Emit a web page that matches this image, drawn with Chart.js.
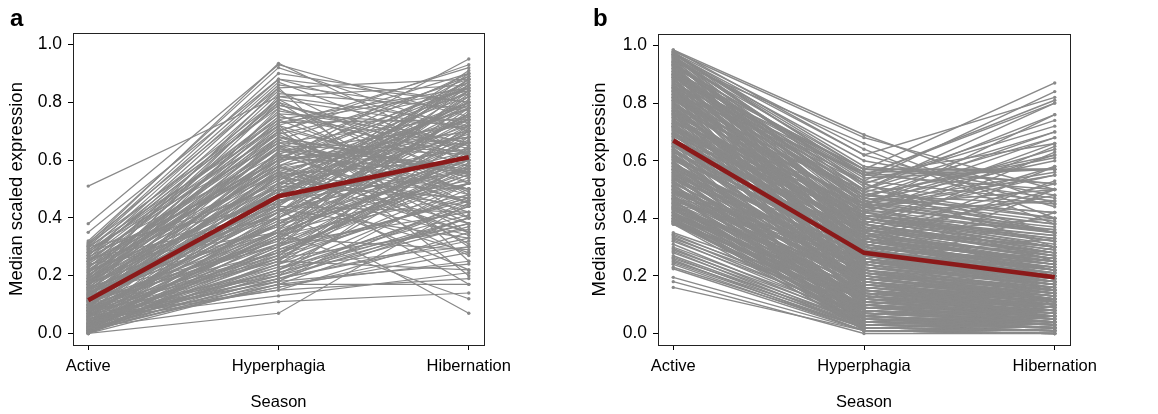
<!DOCTYPE html>
<html>
<head>
  <title>Median scaled expression by season</title>
  <script src="https://cdn.jsdelivr.net/npm/chart.js"></script>
  <style>
    body { margin: 0; background: #fff; font-family: 'Liberation Sans', Arial, Helvetica, sans-serif; }
    .row { display: flex; width: 1158px; height: 414px; }
    .panel { position: relative; width: 579px; height: 414px; }
    .tag { position: absolute; top: 6px; font-weight: bold; font-size: 24px; line-height: 1; color: #000; }
  </style>
</head>
<body>
  <div class="row">
    <div class="panel">
      <span class="tag" style="left:10px;">a</span>
      <canvas id="chartA"></canvas>
    </div>
    <div class="panel">
      <span class="tag" style="left:14px;">b</span>
      <canvas id="chartB"></canvas>
    </div>
  </div>

  <script>
    const seasons = ['Active', 'Hyperphagia', 'Hibernation'];
    const yTicks = [0, 0.2, 0.4, 0.6, 0.8, 1.0];

    // panel a - genes rising into hibernation
    const aActive = [
      0.51, 0.38, 0.35, 0.31, 0.0, 0.02, 0.05, 0.03, 0.25, 0.18, 0.08, 0.12,
      0.32, 0.315, 0.31, 0.305, 0.30, 0.295, 0.29, 0.285, 0.28, 0.275,
      0.27, 0.265, 0.26, 0.255, 0.25, 0.245, 0.24, 0.235, 0.23, 0.225,
      0.22, 0.215, 0.21, 0.205, 0.20, 0.30, 0.28, 0.26, 0.24, 0.22,
      0.195, 0.19, 0.185, 0.18, 0.175, 0.17, 0.165, 0.16, 0.155, 0.15,
      0.145, 0.14, 0.135, 0.13, 0.125, 0.12, 0.115, 0.11, 0.105, 0.10,
      0.195, 0.185, 0.175, 0.165, 0.155, 0.145, 0.135, 0.125, 0.115, 0.105,
      0.19, 0.18, 0.17, 0.16, 0.15, 0.14, 0.13, 0.12, 0.11, 0.10,
      0.098, 0.095, 0.09, 0.088, 0.085, 0.08, 0.078, 0.075, 0.07, 0.068,
      0.065, 0.06, 0.058, 0.055, 0.05, 0.048, 0.045, 0.04, 0.038, 0.035,
      0.032, 0.03, 0.095, 0.085, 0.075, 0.065, 0.055, 0.045, 0.035, 0.09,
      0.08, 0.07, 0.06, 0.05, 0.04,
      0.028, 0.025, 0.022, 0.02, 0.018, 0.015, 0.012, 0.01, 0.008, 0.005,
      0.003, 0.0, 0.0, 0.026, 0.021, 0.016, 0.011, 0.006, 0.002, 0.0,
      0.024, 0.014, 0.009, 0.004, 0.0,
      0.005, 0.01, 0.015, 0.02, 0.025, 0.03, 0.04, 0.045, 0.05, 0.06,
      0.065, 0.07, 0.08, 0.085, 0.09, 0.10, 0.11, 0.12, 0.13, 0.14,
      0.15, 0.16, 0.17, 0.18, 0.19, 0.20, 0.21, 0.23, 0.25, 0.27,
      0.012, 0.035, 0.055, 0.075, 0.095, 0.115, 0.135, 0.155, 0.175, 0.29,
      0.30, 0.28, 0.26, 0.24, 0.22, 0.20, 0.18, 0.16, 0.14, 0.12,
      0.10, 0.08, 0.06, 0.04, 0.02, 0.01, 0.03, 0.05, 0.07, 0.09,
      0.11, 0.13, 0.15, 0.17, 0.19, 0.21, 0.23, 0.25, 0.27, 0.06
    ];
    const aHyper = [
      0.82, 0.93, 0.88, 0.935, 0.07, 0.11, 0.13, 0.16, 0.60, 0.70, 0.35, 0.55,
      0.92, 0.85, 0.78, 0.90, 0.72, 0.81, 0.66, 0.87, 0.74, 0.62,
      0.79, 0.58, 0.84, 0.70, 0.55, 0.76, 0.64, 0.52, 0.68, 0.83,
      0.60, 0.48, 0.73, 0.57, 0.66, 0.45, 0.50, 0.40, 0.35, 0.44,
      0.75, 0.62, 0.80, 0.55, 0.68, 0.48, 0.72, 0.58, 0.42, 0.65,
      0.52, 0.78, 0.45, 0.60, 0.38, 0.70, 0.50, 0.35, 0.63, 0.47,
      0.85, 0.57, 0.40, 0.66, 0.53, 0.30, 0.61, 0.44, 0.56, 0.33,
      0.71, 0.49, 0.64, 0.37, 0.59, 0.43, 0.54, 0.28, 0.46, 0.51,
      0.45, 0.32, 0.58, 0.25, 0.40, 0.52, 0.20, 0.36, 0.62, 0.28,
      0.43, 0.18, 0.50, 0.33, 0.23, 0.55, 0.38, 0.17, 0.30, 0.47,
      0.22, 0.35, 0.68, 0.27, 0.42, 0.19, 0.48, 0.26, 0.34, 0.60,
      0.21, 0.39, 0.31, 0.15, 0.24,
      0.30, 0.20, 0.45, 0.26, 0.16, 0.38, 0.22, 0.55, 0.18, 0.33,
      0.28, 0.17, 0.42, 0.24, 0.36, 0.19, 0.50, 0.27, 0.21, 0.31,
      0.40, 0.23, 0.35, 0.29, 0.25,
      0.24, 0.41, 0.19, 0.52, 0.29, 0.36, 0.21, 0.46, 0.27, 0.57,
      0.34, 0.44, 0.26, 0.63, 0.38, 0.31, 0.54, 0.42, 0.67, 0.49,
      0.59, 0.35, 0.77, 0.53, 0.64, 0.71, 0.81, 0.61, 0.75, 0.86,
      0.33, 0.20, 0.48, 0.39, 0.56, 0.65, 0.47, 0.74, 0.82, 0.69,
      0.88, 0.80, 0.76, 0.72, 0.69, 0.65, 0.62, 0.58, 0.54, 0.50,
      0.46, 0.42, 0.38, 0.34, 0.30, 0.17, 0.22, 0.18, 0.25, 0.28,
      0.32, 0.37, 0.43, 0.51, 0.56, 0.60, 0.67, 0.73, 0.79, 0.15
    ];
    const aHibern = [
      0.86, 0.75, 0.70, 0.62, 0.45, 0.14, 0.21, 0.30, 0.95, 0.93, 0.12, 0.17,
      0.70, 0.88, 0.55, 0.80, 0.92, 0.48, 0.75, 0.62, 0.85, 0.40,
      0.66, 0.82, 0.52, 0.90, 0.35, 0.72, 0.58, 0.86, 0.45, 0.78,
      0.68, 0.28, 0.84, 0.50, 0.63, 0.88, 0.22, 0.74, 0.60, 0.42,
      0.62, 0.85, 0.40, 0.78, 0.55, 0.88, 0.30, 0.70, 0.82, 0.48,
      0.74, 0.58, 0.66, 0.90, 0.52, 0.35, 0.80, 0.60, 0.72, 0.86,
      0.25, 0.68, 0.76, 0.45, 0.89, 0.64, 0.56, 0.84, 0.38, 0.71,
      0.20, 0.79, 0.50, 0.67, 0.87, 0.33, 0.75, 0.57, 0.63, 0.47,
      0.78, 0.55, 0.35, 0.72, 0.88, 0.50, 0.65, 0.82, 0.42, 0.58,
      0.07, 0.46, 0.69, 0.84, 0.38, 0.60, 0.76, 0.25, 0.52, 0.80,
      0.44, 0.70, 0.56, 0.62, 0.90, 0.32, 0.74, 0.48, 0.86, 0.66,
      0.40, 0.53, 0.77, 0.19, 0.64,
      0.58, 0.44, 0.70, 0.36, 0.28, 0.66, 0.50, 0.80, 0.24, 0.62,
      0.54, 0.17, 0.75, 0.41, 0.60, 0.33, 0.85, 0.47, 0.38, 0.56,
      0.68, 0.30, 0.52, 0.46, 0.22,
      0.52, 0.73, 0.40, 0.64, 0.55, 0.83, 0.45, 0.61, 0.70, 0.79,
      0.48, 0.87, 0.63, 0.57, 0.76, 0.42, 0.68, 0.81, 0.50, 0.72,
      0.85, 0.59, 0.66, 0.78, 0.89, 0.54, 0.71, 0.83, 0.65, 0.77,
      0.29, 0.37, 0.80, 0.57, 0.74, 0.62, 0.91, 0.49, 0.73, 0.84,
      0.80, 0.60, 0.45, 0.52, 0.38, 0.31, 0.50, 0.27, 0.44, 0.34,
      0.56, 0.60, 0.72, 0.66, 0.80, 0.40, 0.59, 0.52, 0.68, 0.47,
      0.78, 0.62, 0.57, 0.84, 0.46, 0.70, 0.88, 0.74, 0.64, 0.35
    ];
    const aMedian = [0.115, 0.475, 0.61];

    // panel b - genes falling after the active season
    const bActive = [
      0.985, 0.98, 0.975, 0.97, 0.97, 0.965, 0.96, 0.955, 0.95, 0.95,
      0.945, 0.94, 0.935, 0.93, 0.93, 0.925, 0.92, 0.92, 0.915, 0.91,
      0.91, 0.905, 0.90, 0.90, 0.985, 0.975, 0.96, 0.94, 0.92, 0.90,
      0.895, 0.89, 0.885, 0.88, 0.875, 0.87, 0.865, 0.86, 0.855, 0.85,
      0.845, 0.84, 0.835, 0.83, 0.825, 0.82, 0.815, 0.81, 0.805, 0.80,
      0.795, 0.79, 0.785, 0.78, 0.775, 0.77, 0.765, 0.76, 0.755, 0.75,
      0.745, 0.74, 0.735, 0.73, 0.725, 0.72, 0.715, 0.71, 0.705, 0.70,
      0.89, 0.87, 0.85, 0.83, 0.81, 0.79, 0.77, 0.75, 0.73, 0.71,
      0.695, 0.69, 0.685, 0.68, 0.675, 0.67, 0.665, 0.66, 0.655, 0.65,
      0.645, 0.64, 0.635, 0.63, 0.625, 0.62, 0.615, 0.61, 0.605, 0.60,
      0.595, 0.59, 0.585, 0.58, 0.575, 0.57, 0.565, 0.56, 0.555, 0.55,
      0.545, 0.54, 0.535, 0.53, 0.525, 0.52, 0.515, 0.51, 0.505, 0.50,
      0.69, 0.67, 0.65, 0.63, 0.61, 0.59, 0.57, 0.55, 0.53, 0.51,
      0.495, 0.49, 0.485, 0.48, 0.475, 0.47, 0.465, 0.46, 0.455, 0.45,
      0.445, 0.44, 0.435, 0.43, 0.425, 0.42, 0.415, 0.41, 0.405, 0.40,
      0.395, 0.39, 0.385, 0.38, 0.38, 0.47, 0.46, 0.44, 0.42, 0.40,
      0.49, 0.45, 0.43, 0.41, 0.39,
      0.35, 0.345, 0.34, 0.335, 0.33, 0.325, 0.32, 0.31, 0.30, 0.295,
      0.29, 0.285, 0.28, 0.27, 0.265, 0.26, 0.255, 0.25, 0.245, 0.24,
      0.23, 0.225, 0.195, 0.18, 0.16,
      0.98, 0.97, 0.96, 0.955, 0.95, 0.94, 0.935, 0.93, 0.92, 0.915,
      0.91, 0.90, 0.895, 0.89, 0.88, 0.875, 0.87, 0.86, 0.855, 0.85,
      0.84, 0.835, 0.83, 0.82, 0.815, 0.81, 0.80, 0.795, 0.79, 0.78,
      0.775, 0.77, 0.76, 0.755, 0.75, 0.965, 0.945, 0.925, 0.905, 0.885,
      0.865, 0.845, 0.825, 0.805, 0.785, 0.765, 0.975, 0.935, 0.895, 0.855,
      0.745, 0.74, 0.73, 0.725, 0.72, 0.71, 0.705, 0.70, 0.69, 0.685,
      0.68, 0.67, 0.665, 0.66, 0.65, 0.645, 0.64, 0.63, 0.625, 0.62,
      0.61, 0.605, 0.60, 0.59, 0.585, 0.58, 0.57, 0.565, 0.56, 0.55,
      0.545, 0.54, 0.53, 0.525, 0.52, 0.51, 0.505, 0.50, 0.735, 0.715,
      0.695, 0.675, 0.655, 0.635, 0.615, 0.595, 0.575, 0.555, 0.535, 0.515,
      0.72, 0.66, 0.62, 0.58, 0.54,
      0.50, 0.495, 0.49, 0.48, 0.475, 0.47, 0.46, 0.455, 0.45, 0.44,
      0.435, 0.43, 0.42, 0.415, 0.41, 0.40, 0.395, 0.39, 0.385, 0.38,
      0.498, 0.485, 0.468, 0.452, 0.438, 0.422, 0.408, 0.392, 0.382, 0.465,
      0.96, 0.94, 0.91, 0.88, 0.86, 0.83, 0.80, 0.78, 0.93, 0.89,
      0.84, 0.76, 0.72, 0.97, 0.82
    ];
    const bHyper = [
      0.69, 0.68, 0.64, 0.62, 0.55, 0.52, 0.60, 0.48, 0.57, 0.45,
      0.66, 0.42, 0.54, 0.38, 0.50, 0.56, 0.47, 0.35, 0.44, 0.57,
      0.40, 0.52, 0.30, 0.46, 0.62, 0.58, 0.51, 0.43, 0.36, 0.55,
      0.50, 0.42, 0.33, 0.55, 0.28, 0.46, 0.38, 0.22, 0.52, 0.31,
      0.44, 0.26, 0.40, 0.35, 0.18, 0.48, 0.30, 0.42, 0.24, 0.37,
      0.45, 0.20, 0.34, 0.28, 0.50, 0.15, 0.39, 0.32, 0.25, 0.43,
      0.12, 0.36, 0.29, 0.47, 0.21, 0.33, 0.27, 0.40, 0.17, 0.31,
      0.57, 0.53, 0.49, 0.56, 0.45, 0.41, 0.35, 0.38, 0.26, 0.22,
      0.32, 0.25, 0.40, 0.18, 0.28, 0.35, 0.12, 0.22, 0.30, 0.38,
      0.15, 0.26, 0.20, 0.33, 0.10, 0.24, 0.29, 0.17, 0.21, 0.36,
      0.08, 0.19, 0.27, 0.14, 0.23, 0.31, 0.11, 0.16, 0.25, 0.06,
      0.20, 0.13, 0.28, 0.09, 0.18, 0.22, 0.05, 0.15, 0.12, 0.24,
      0.45, 0.42, 0.38, 0.34, 0.30, 0.27, 0.19, 0.26, 0.07, 0.16,
      0.20, 0.14, 0.26, 0.08, 0.18, 0.11, 0.22, 0.05, 0.15, 0.28,
      0.09, 0.17, 0.03, 0.12, 0.20, 0.07, 0.14, 0.02, 0.10, 0.16,
      0.06, 0.12, 0.04, 0.09, 0.14, 0.32, 0.24, 0.19, 0.13, 0.08,
      0.30, 0.11, 0.05, 0.16, 0.10,
      0.12, 0.08, 0.10, 0.06, 0.09, 0.05, 0.07, 0.04, 0.06, 0.03,
      0.05, 0.02, 0.04, 0.03, 0.02, 0.04, 0.01, 0.03, 0.02, 0.01,
      0.02, 0.01, 0.01, 0.00, 0.01,
      0.49, 0.36, 0.28, 0.53, 0.33, 0.25, 0.46, 0.31, 0.20, 0.41,
      0.34, 0.27, 0.48, 0.19, 0.37, 0.23, 0.43, 0.15, 0.29, 0.39,
      0.21, 0.35, 0.13, 0.32, 0.44, 0.24, 0.18, 0.38, 0.27, 0.10,
      0.33, 0.22, 0.41, 0.16, 0.29, 0.45, 0.40, 0.34, 0.26, 0.30,
      0.25, 0.32, 0.36, 0.14, 0.28, 0.19, 0.55, 0.47, 0.39, 0.08,
      0.26, 0.40, 0.19, 0.33, 0.11, 0.28, 0.36, 0.15, 0.23, 0.30,
      0.09, 0.21, 0.34, 0.17, 0.26, 0.05, 0.20, 0.29, 0.13, 0.24,
      0.18, 0.31, 0.07, 0.22, 0.14, 0.27, 0.10, 0.19, 0.04, 0.23,
      0.12, 0.25, 0.08, 0.17, 0.03, 0.20, 0.11, 0.14, 0.44, 0.37,
      0.41, 0.15, 0.32, 0.06, 0.25, 0.16, 0.21, 0.09, 0.18, 0.02,
      0.30, 0.03, 0.02, 0.05, 0.01,
      0.17, 0.09, 0.23, 0.04, 0.13, 0.19, 0.06, 0.11, 0.02, 0.15,
      0.08, 0.21, 0.03, 0.12, 0.07, 0.01, 0.10, 0.05, 0.13, 0.02,
      0.25, 0.12, 0.16, 0.04, 0.10, 0.07, 0.14, 0.03, 0.06, 0.01,
      0.52, 0.48, 0.45, 0.40, 0.50, 0.36, 0.42, 0.33, 0.55, 0.47,
      0.38, 0.30, 0.35, 0.57, 0.44
    ];
    const bHibern = [
      0.45, 0.50, 0.38, 0.44, 0.57, 0.30, 0.48, 0.62, 0.52, 0.25,
      0.40, 0.35, 0.57, 0.20, 0.70, 0.47, 0.42, 0.15, 0.55, 0.57,
      0.28, 0.35, 0.10, 0.60, 0.82, 0.52, 0.45, 0.32, 0.22, 0.66,
      0.40, 0.30, 0.22, 0.80, 0.18, 0.35, 0.28, 0.12, 0.72, 0.20,
      0.50, 0.15, 0.32, 0.25, 0.08, 0.45, 0.18, 0.62, 0.14, 0.27,
      0.38, 0.10, 0.24, 0.19, 0.76, 0.06, 0.30, 0.22, 0.16, 0.55,
      0.05, 0.26, 0.20, 0.42, 0.12, 0.25, 0.17, 0.34, 0.09, 0.21,
      0.87, 0.84, 0.68, 0.57, 0.64, 0.36, 0.48, 0.29, 0.18, 0.11,
      0.22, 0.18, 0.30, 0.10, 0.20, 0.26, 0.08, 0.15, 0.24, 0.65,
      0.09, 0.19, 0.14, 0.28, 0.04, 0.17, 0.22, 0.12, 0.16, 0.30,
      0.03, 0.13, 0.21, 0.09, 0.18, 0.58, 0.06, 0.11, 0.20, 0.02,
      0.15, 0.07, 0.23, 0.05, 0.13, 0.17, 0.02, 0.10, 0.08, 0.50,
      0.35, 0.46, 0.27, 0.40, 0.25, 0.21, 0.14, 0.33, 0.04, 0.12,
      0.15, 0.10, 0.20, 0.05, 0.13, 0.08, 0.42, 0.03, 0.11, 0.22,
      0.06, 0.12, 0.02, 0.09, 0.15, 0.04, 0.10, 0.01, 0.07, 0.12,
      0.04, 0.30, 0.02, 0.06, 0.10, 0.26, 0.18, 0.14, 0.09, 0.05,
      0.24, 0.08, 0.03, 0.11, 0.07,
      0.10, 0.06, 0.15, 0.04, 0.08, 0.03, 0.05, 0.02, 0.12, 0.02,
      0.04, 0.01, 0.03, 0.02, 0.01, 0.06, 0.01, 0.02, 0.01, 0.00,
      0.01, 0.00, 0.00, 0.00, 0.01,
      0.35, 0.26, 0.20, 0.46, 0.24, 0.16, 0.38, 0.22, 0.11, 0.32,
      0.25, 0.18, 0.40, 0.12, 0.28, 0.15, 0.35, 0.08, 0.20, 0.30,
      0.13, 0.26, 0.06, 0.23, 0.36, 0.17, 0.10, 0.29, 0.19, 0.04,
      0.24, 0.14, 0.33, 0.09, 0.21, 0.56, 0.31, 0.27, 0.17, 0.22,
      0.18, 0.25, 0.28, 0.07, 0.20, 0.12, 0.50, 0.39, 0.30, 0.03,
      0.19, 0.33, 0.13, 0.25, 0.06, 0.21, 0.28, 0.09, 0.17, 0.23,
      0.05, 0.15, 0.27, 0.11, 0.19, 0.02, 0.14, 0.22, 0.08, 0.18,
      0.12, 0.24, 0.04, 0.16, 0.09, 0.20, 0.06, 0.13, 0.02, 0.17,
      0.07, 0.19, 0.04, 0.11, 0.01, 0.14, 0.06, 0.09, 0.37, 0.30,
      0.34, 0.10, 0.26, 0.03, 0.18, 0.10, 0.15, 0.05, 0.12, 0.01,
      0.23, 0.02, 0.01, 0.03, 0.00,
      0.12, 0.05, 0.18, 0.02, 0.09, 0.14, 0.03, 0.07, 0.01, 0.10,
      0.04, 0.16, 0.01, 0.08, 0.04, 0.00, 0.06, 0.02, 0.09, 0.01,
      0.20, 0.08, 0.11, 0.02, 0.06, 0.04, 0.10, 0.01, 0.03, 0.00,
      0.74, 0.61, 0.68, 0.55, 0.80, 0.52, 0.66, 0.50, 0.81, 0.70,
      0.58, 0.53, 0.63, 0.57, 0.76
    ];
    const bMedian = [0.67, 0.28, 0.195];

    const FONT = "'Liberation Sans', Arial, Helvetica, sans-serif";
    const GREY = '#898989';
    const RED = '#8b1a1a';

    // draws the closed frame round the plot, like R's box()
    const boxPlugin = {
      id: 'box',
      afterDraw(chart) {
        const a = chart.chartArea;
        const ctx = chart.ctx;
        ctx.save();
        ctx.strokeStyle = '#222';
        ctx.lineWidth = 1;
        ctx.strokeRect(Math.round(a.left) + 0.5, Math.round(a.top) + 0.5,
          Math.round(a.right - a.left), Math.round(a.bottom - a.top));
        ctx.restore();
      }
    };

    function makeChart(id, act, hyp, hib, med, yWidth, padRight, padTop, titlePad, lineW) {
      const datasets = [{
        data: med.map((v, i) => ({ x: i, y: v })),
        borderColor: RED,
        borderWidth: 4.5,
        pointRadius: 0,
        order: 0
      }];
      for (let i = 0; i < act.length; i++) {
        datasets.push({
          data: [{ x: 0, y: act[i] }, { x: 1, y: hyp[i] }, { x: 2, y: hib[i] }],
          borderColor: GREY,
          backgroundColor: GREY,
          borderWidth: lineW,
          pointRadius: 1.7,
          pointBorderWidth: 0,
          order: 1
        });
      }

      return new Chart(document.getElementById(id).getContext('2d'), {
        type: 'line',
        data: { datasets },
        plugins: [boxPlugin],
        options: {
          responsive: true,
          maintainAspectRatio: false,
          animation: false,
          events: [],
          layout: { padding: { left: 0, right: padRight, top: padTop, bottom: 0 } },
          plugins: { legend: { display: false }, tooltip: { enabled: false } },
          scales: {
            x: {
              type: 'linear',
              min: -0.08,
              max: 2.08,
              afterBuildTicks: s => { s.ticks = [0, 1, 2].map(v => ({ value: v })); },
              afterFit: s => {
                s.height = 69;
                s.paddingLeft = 0; s.paddingRight = 0;
              },
              grid: { drawOnChartArea: false, drawTicks: true, tickLength: 5, tickColor: '#000' },
              border: { display: false },
              ticks: {
                autoSkip: false, maxRotation: 0, padding: 7, color: '#000',
                font: { family: FONT, size: 16.5 },
                callback: v => seasons[v]
              },
              title: {
                display: true, text: 'Season', color: '#000',
                font: { family: FONT, size: 16.5 },
                padding: { top: 0, bottom: 2 }
              }
            },
            y: {
              min: -0.04,
              max: 1.04,
              afterBuildTicks: s => { s.ticks = yTicks.map(v => ({ value: v })); },
              afterFit: s => {
                s.width = yWidth;
                s.paddingTop = 0; s.paddingBottom = 0;
              },
              grid: { drawOnChartArea: false, drawTicks: true, tickLength: 5, tickColor: '#000' },
              border: { display: false },
              ticks: {
                padding: 6, color: '#000',
                font: { family: FONT, size: 17.5 },
                callback: v => v.toFixed(1)
              },
              title: {
                display: true, text: 'Median scaled expression', color: '#000',
                font: { family: FONT, size: 18.5 },
                padding: { top: titlePad, bottom: 0 }
              }
            }
          }
        }
      });
    }

    makeChart('chartA', aActive, aHyper, aHibern, aMedian, 73, 95, 33, 6, 1.2);
    makeChart('chartB', bActive, bHyper, bHibern, bMedian, 79, 88, 34, 10, 1.45);
  </script>
</body>
</html>
